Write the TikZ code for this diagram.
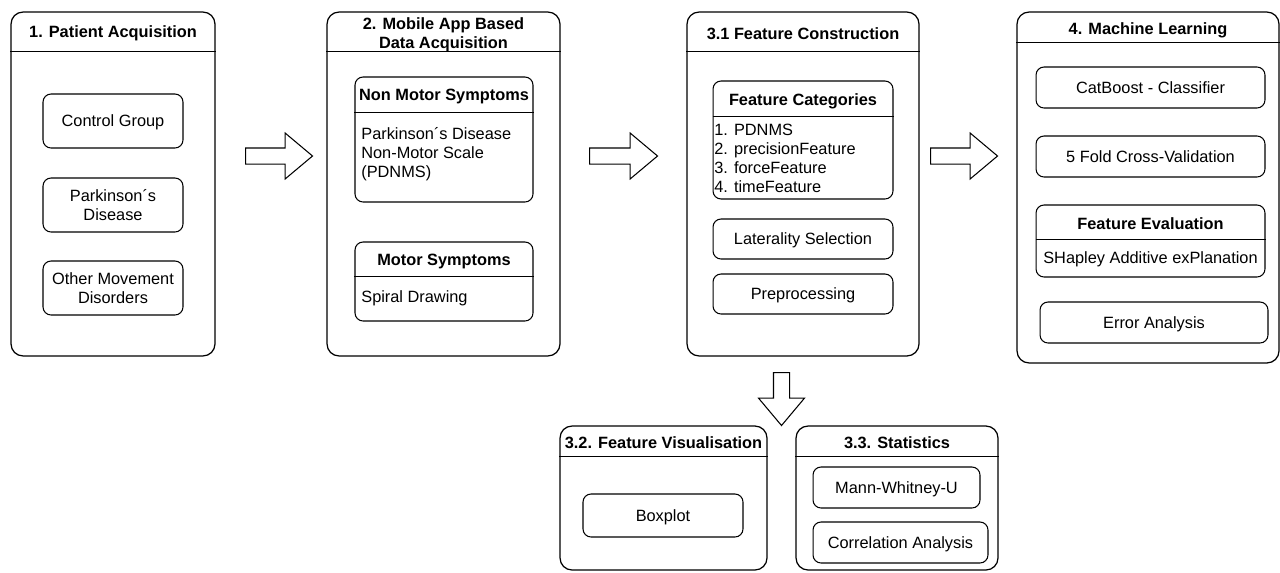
\documentclass[tikz,border=0pt]{standalone}
\usepackage{fontspec}
\setmainfont{Liberation Sans}
\usetikzlibrary{shapes.arrows}
\newcommand{\diafont}{\fontsize{9.3pt}{10.8pt}\selectfont}

\begin{document}
\begin{tikzpicture}[x=0.02cm, y=-0.02cm,
    lane/.style={draw, rounded corners=0.24cm, line width=0.7pt, inner sep=0pt},
    item/.style={draw, rounded corners=0.16cm, line width=0.6pt, inner sep=0pt, font=\diafont, align=center, text depth=0pt},
    head/.style={font=\diafont\bfseries, align=center, inner sep=0pt},
    body/.style={font=\diafont, align=left, inner sep=0pt},
    bigarrow/.style={draw, single arrow, line width=0.6pt, inner sep=0.15cm, minimum width=0.9cm,
        single arrow head extend=0.3cm, single arrow tip angle=80, anchor=tail}]
    \useasboundingbox (0,0) rectangle (1280,572);
    % lanes
    \node[lane, minimum width=4.08cm, minimum height=6.88cm] at (113,184) (patient) {};
    \node[lane, minimum width=4.66cm, minimum height=6.88cm] at (443.5,184) (mobile) {};
    \node[lane, minimum width=4.64cm, minimum height=6.88cm] at (803,184) (construct) {};
    \node[lane, minimum width=5.24cm, minimum height=7.02cm] at (1148,187.5) (learning) {};
    \node[lane, minimum width=4.14cm, minimum height=2.88cm] at (663.5,498) (visual) {};
    \node[lane, minimum width=4.04cm, minimum height=2.88cm] at (897,498) (stats) {};
    % lane headers
    \node[head] at ([yshift=-0.44cm]patient.north) (patientT) {1. Patient Acquisition};
    \node[head] at ([yshift=-0.46cm]mobile.north) (mobileT) {2. Mobile App Based\\Data Acquisition};
    \node[head] at ([yshift=-0.44cm]construct.north) (constructT) {3.1 Feature Construction};
    \node[head] at ([yshift=-0.37cm]learning.north) (learningT) {4. Machine Learning};
    \node[head] at ([yshift=-0.35cm]visual.north) (visualT) {3.2. Feature Visualisation};
    \node[head] at ([yshift=-0.35cm]stats.north) (statsT) {3.3. Statistics};
    \draw[line width=0.7pt] ([yshift=-0.8cm]patient.north west) -- ([yshift=-0.8cm]patient.north east);
    \draw[line width=0.7pt] ([yshift=-0.8cm]mobile.north west) -- ([yshift=-0.8cm]mobile.north east);
    \draw[line width=0.7pt] ([yshift=-0.8cm]construct.north west) -- ([yshift=-0.8cm]construct.north east);
    \draw[line width=0.7pt] ([yshift=-0.62cm]learning.north west) -- ([yshift=-0.62cm]learning.north east);
    \draw[line width=0.7pt] ([yshift=-0.62cm]visual.north west) -- ([yshift=-0.62cm]visual.north east);
    \draw[line width=0.7pt] ([yshift=-0.62cm]stats.north west) -- ([yshift=-0.62cm]stats.north east);
    % 1. patients
    \node[item, minimum width=2.8cm, minimum height=1.08cm] at (113,121) (control) {Control Group};
    \node[item, minimum width=2.8cm, minimum height=1.08cm] at (113,205) (pd) {Parkinson´s\\Disease};
    \node[item, minimum width=2.8cm, minimum height=1.08cm] at (113,288) (other) {Other Movement\\Disorders};
    % 2. app
    \node[item, minimum width=3.56cm, minimum height=2.5cm] at (444,139.5) (nonmotor) {};
    \node[head] at ([yshift=-0.41cm]nonmotor.north) (nonmotorT) {Non Motor Symptoms};
    \draw[line width=0.6pt] ([yshift=-0.72cm]nonmotor.north west) -- ([yshift=-0.72cm]nonmotor.north east);
    \node[body, anchor=north west] at (361,127) (pdnms) {Parkinson´s Disease\\Non-Motor Scale\\(PDNMS)};
    \node[item, minimum width=3.56cm, minimum height=1.58cm] at (444,281.5) (motor) {};
    \node[head] at ([yshift=-0.4cm]motor.north) (motorT) {Motor Symptoms};
    \draw[line width=0.6pt] ([yshift=-0.7cm]motor.north west) -- ([yshift=-0.7cm]motor.north east);
    \node[body, anchor=west] at (361,298) (spiral) {Spiral Drawing};
    % 3.1 construction
    \node[item, minimum width=3.6cm, minimum height=2.36cm] at (803,140) (categories) {};
    \node[head] at ([yshift=-0.41cm]categories.north) (categoriesT) {Feature Categories};
    \draw[line width=0.6pt] ([yshift=-0.72cm]categories.north west) -- ([yshift=-0.72cm]categories.north east);
    \node[body, anchor=north west] at (714,124) (catlist) {1. PDNMS\\2. precisionFeature\\3. forceFeature\\4. timeFeature};
    \node[item, minimum width=3.6cm, minimum height=0.8cm] at (803,239) (laterality) {Laterality Selection};
    \node[item, minimum width=3.6cm, minimum height=0.8cm] at (803,294) (preproc) {Preprocessing};
    % 4. learning
    \node[item, minimum width=4.58cm, minimum height=0.82cm] at (1150.5,87.5) (catboost) {CatBoost - Classifier};
    \node[item, minimum width=4.58cm, minimum height=0.82cm] at (1150.5,156.5) (crossval) {5 Fold Cross-Validation};
    \node[item, minimum width=4.58cm, minimum height=1.44cm] at (1150.5,241) (evaluation) {};
    \node[head] at ([yshift=-0.38cm]evaluation.north) (evaluationT) {Feature Evaluation};
    \draw[line width=0.6pt] ([yshift=-0.7cm]evaluation.north west) -- ([yshift=-0.7cm]evaluation.north east);
    \node[body] at ([yshift=0.37cm]evaluation.south) (shap) {SHapley Additive exPlanation};
    \node[item, minimum width=4.56cm, minimum height=0.82cm] at (1154,322.5) (error) {Error Analysis};
    % 3.2 and 3.3
    \node[item, minimum width=3.2cm, minimum height=0.86cm] at (663,515.5) (boxplot) {Boxplot};
    \node[item, minimum width=3.34cm, minimum height=0.82cm] at (896.5,487.5) (mannwhitney) {Mann-Whitney-U};
    \node[item, minimum width=3.5cm, minimum height=0.82cm] at (900.5,542.5) (correlation) {Correlation Analysis};
    % block arrows between lanes
    \node[bigarrow, minimum height=1.34cm] at (245,156) (step12) {};
    \node[bigarrow, minimum height=1.36cm] at (589,156) (step23) {};
    \node[bigarrow, minimum height=1.34cm] at (930,156) (step34) {};
    \node[bigarrow, minimum height=1.06cm, rotate=-90] at (781.5,372) (step3sub) {};
\end{tikzpicture}
\end{document}
